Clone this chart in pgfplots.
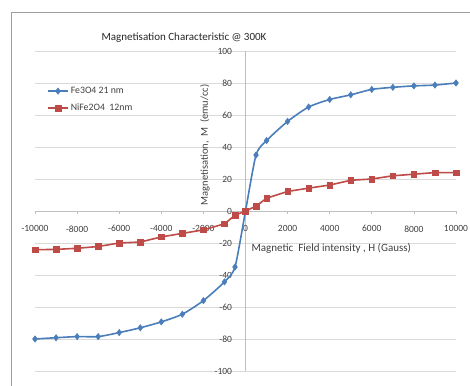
\documentclass[border=0pt]{standalone}
\usepackage{pgfplots}
\pgfplotsset{compat=1.18}
\usepackage{fontspec}
\setmainfont{Carlito}
\definecolor{feblue}{HTML}{4A7EBB}
\definecolor{nired}{HTML}{BE4B48}
\definecolor{gridc}{HTML}{D9D9D9}
\definecolor{axc}{HTML}{BFBFBF}
\definecolor{txt}{HTML}{404040}
\begin{document}
\begin{tikzpicture}
\path[use as bounding box] (0pt,0pt) rectangle (470pt,385pt);
\begin{scope}
\clip (0pt,0pt) rectangle (470pt,385pt);
\draw[color=gray!75, line width=0.9pt] (11pt,-20pt) rectangle (500pt,373pt);
\end{scope}
\begin{axis}[
  at={(35pt,14pt)}, anchor=south west,
  width=421pt, height=320pt, scale only axis,
  xmin=-10000, xmax=10000, ymin=-100, ymax=100,
  axis lines=middle,
  axis line style={draw=axc, line width=0.8pt, -},
  hide obscured x ticks=false, hide obscured y ticks=false,
  xtick distance=2000, ytick distance=20,
  scaled x ticks=false, scaled y ticks=false,
  ymajorgrids, grid style={draw=gridc, line width=0.8pt},
  major tick length=3pt,
  xtick style={draw=axc, line width=0.8pt},
  ytick style={draw=none},
  tick align=outside,
  /pgf/number format/1000 sep={},
  /pgf/number format/assume math mode=true,
  tick label style={font=\fontsize{9.5}{11}\selectfont, text=txt},
  xticklabel style={yshift=-8pt},
  yticklabel style={xshift=-7pt},
  clip=false,
  legend style={draw=none, fill=none, at={(rel axis cs:0,1)}, anchor=north west,
    xshift=9pt, yshift=-32pt, font=\fontsize{9.8}{11}\selectfont, text=txt,
    row sep=5pt},
  legend cell align=left,
  legend image code/.code={\draw[mark repeat=2,mark phase=2,#1] plot coordinates {(0pt,0pt) (10pt,0pt) (20pt,0pt)};},
]
\addplot[color=feblue, line width=1.6pt, smooth, tension=0.4, mark=diamond*, mark size=3.2pt, mark options={line width=0.5pt}]
coordinates {
(-10000,-80) (-9000,-79.2) (-8000,-78.5) (-7000,-78.5) (-6000,-76) (-5000,-73)
(-4000,-69.3) (-3000,-64.5) (-2000,-56) (-1000,-44.3) (-500,-35) (0,0)
(500,35) (1000,44) (2000,56) (3000,65) (4000,69.7) (5000,72.6) (6000,76)
(7000,77.3) (8000,78.2) (9000,78.7) (10000,80)
};
\addlegendentry{Fe3O4 21 nm}
\addplot[color=nired, line width=1.6pt, mark=square*, mark size=2.8pt, mark options={line width=0.5pt}]
coordinates {
(-10000,-24.2) (-9000,-24) (-8000,-23.3) (-7000,-22.2) (-6000,-20) (-5000,-19.4)
(-4000,-16.2) (-3000,-14) (-2000,-11.8) (-1000,-8) (-500,-2.7) (0,0)
(500,3) (1000,8) (2000,12.2) (3000,14.3) (4000,16.2) (5000,19.2) (6000,20)
(7000,22) (8000,23) (9000,24) (10000,24)
};
\addlegendentry{NiFe2O4~~12nm}
\end{axis}
\node[font=\fontsize{11}{13}\selectfont, text=black!85] at (184pt,347pt) {Magnetisation Characteristic @ 300K};
\node[rotate=90, font=\fontsize{10.5}{12}\selectfont, text=txt] at (205pt,240pt) {Magnetisation,~~M~~(emu/cc)};
\node[anchor=west, font=\fontsize{11}{13}\selectfont, text=txt] at (248pt,137pt) {Magnetic~~Field intensity , H (Gauss)};
\end{tikzpicture}
\end{document}
